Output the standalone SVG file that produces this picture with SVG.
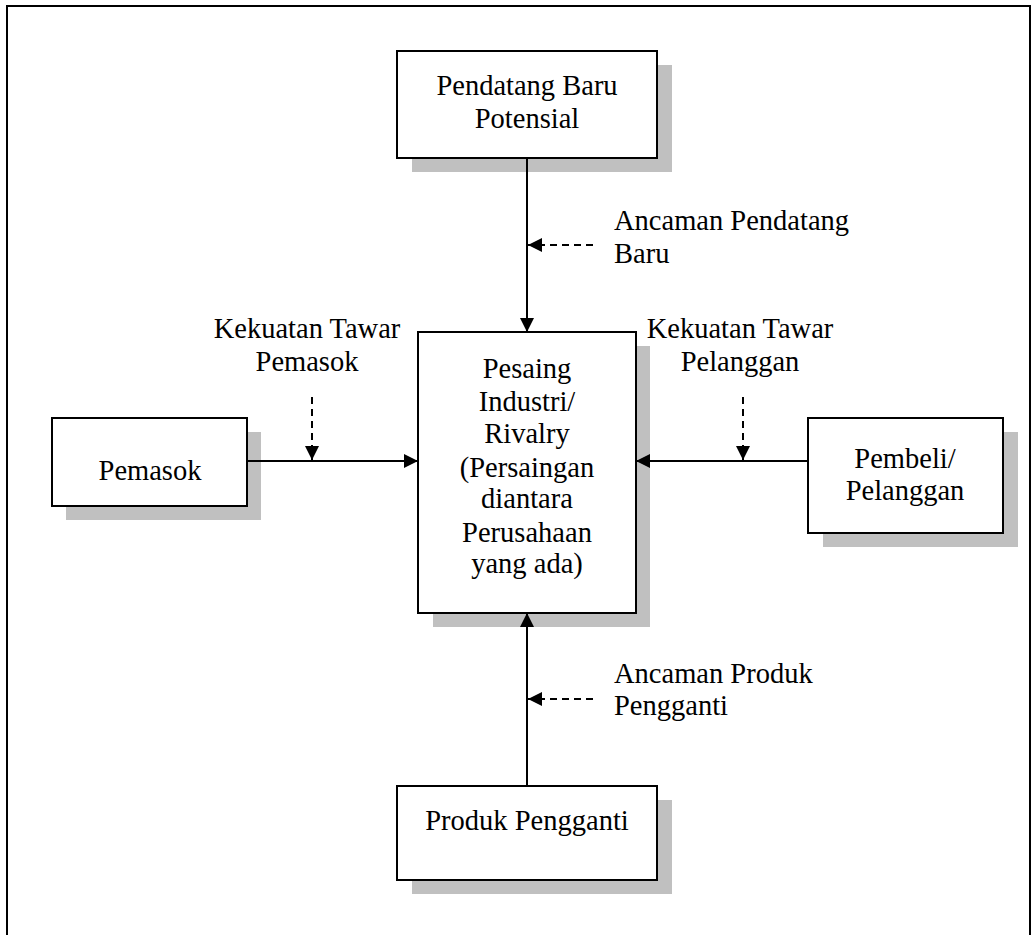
<svg xmlns="http://www.w3.org/2000/svg" width="1033" height="935" viewBox="0 0 1033 935">
<style>
.sh{fill:#c0c0c0;stroke:none}
.bx{fill:#fff;stroke:#000;stroke-width:2}
.t{font-family:"Liberation Serif","Times New Roman",serif;font-size:28.5px;fill:#000}
.c{text-anchor:middle}
.ln{stroke:#000;stroke-width:2;fill:none}
.ds{stroke:#000;stroke-width:2;fill:none;stroke-dasharray:7 5}
</style>
<defs>
<marker id="ah" markerUnits="userSpaceOnUse" markerWidth="15" markerHeight="14" refX="14" refY="7" orient="auto">
<path d="M0,0 L14,7 L0,14 Z" fill="#000"/>
</marker>
</defs>
<rect width="1033" height="935" fill="#fff"/>
<path d="M7,935 V6 H1030 V935" fill="none" stroke="#000" stroke-width="2"/>

<g id="node-pendatang">
<rect class="sh" x="412" y="65" width="260" height="107"/>
<rect class="bx" x="397" y="51" width="260" height="107"/>
<text class="t c" x="527" y="95">Pendatang Baru</text>
<text class="t c" x="527" y="128">Potensial</text>
</g>

<g id="node-pesaing">
<rect class="sh" x="433" y="346" width="217" height="281"/>
<rect class="bx" x="418" y="332" width="218" height="281"/>
<text class="t c" x="527" y="378">Pesaing</text>
<text class="t c" x="527" y="411">Industri/</text>
<text class="t c" x="527" y="443">Rivalry</text>
<text class="t c" x="527" y="477">(Persaingan</text>
<text class="t c" x="527" y="508">diantara</text>
<text class="t c" x="527" y="542">Perusahaan</text>
<text class="t c" x="527" y="573">yang ada)</text>
</g>

<g id="node-pemasok">
<rect class="sh" x="66" y="432" width="195" height="88"/>
<rect class="bx" x="52" y="418" width="195" height="88"/>
<text class="t c" x="150" y="480">Pemasok</text>
</g>

<g id="node-pembeli">
<rect class="sh" x="823" y="432" width="195" height="115"/>
<rect class="bx" x="808" y="418" width="195" height="115"/>
<text class="t c" x="905" y="468">Pembeli/</text>
<text class="t c" x="905" y="500">Pelanggan</text>
</g>

<g id="node-produk">
<rect class="sh" x="412" y="800" width="260" height="94"/>
<rect class="bx" x="397" y="786" width="260" height="94"/>
<text class="t c" x="527" y="830">Produk Pengganti</text>
</g>

<g id="labels">
<text class="t" x="614" y="230">Ancaman Pendatang</text>
<text class="t" x="614" y="263">Baru</text>
<text class="t" x="614" y="683">Ancaman Produk</text>
<text class="t" x="614" y="715">Pengganti</text>
<text class="t c" x="307" y="338">Kekuatan Tawar</text>
<text class="t c" x="307" y="371">Pemasok</text>
<text class="t c" x="740" y="338">Kekuatan Tawar</text>
<text class="t c" x="740" y="371">Pelanggan</text>
</g>

<g id="connectors">
<line class="ln" x1="527" y1="158" x2="527" y2="332" marker-end="url(#ah)"/>
<line class="ln" x1="527" y1="786" x2="527" y2="613" marker-end="url(#ah)"/>
<line class="ln" x1="247" y1="461" x2="418" y2="461" marker-end="url(#ah)"/>
<line class="ln" x1="808" y1="461" x2="636" y2="461" marker-end="url(#ah)"/>
<line class="ds" x1="593" y1="245" x2="528" y2="245" marker-end="url(#ah)"/>
<line class="ds" x1="593" y1="699" x2="528" y2="699" marker-end="url(#ah)"/>
<line class="ds" x1="312" y1="397" x2="312" y2="460" marker-end="url(#ah)"/>
<line class="ds" x1="743" y1="397" x2="743" y2="460" marker-end="url(#ah)"/>
</g>
</svg>
